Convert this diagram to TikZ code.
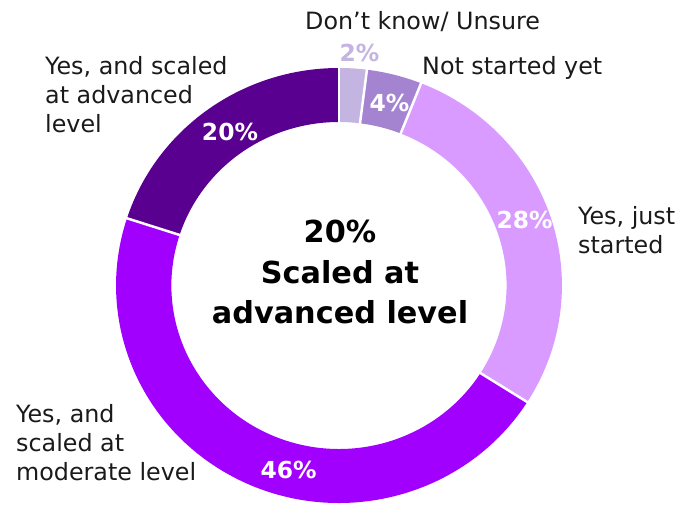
\documentclass[tikz,border=0pt]{standalone}
\usepackage{fontspec}
\setmainfont{DejaVu Sans}
\definecolor{cadv}{HTML}{5A0090}
\definecolor{cmod}{HTML}{A100FF}
\definecolor{cjs}{HTML}{D99BFF}
\definecolor{cns}{HTML}{A483D1}
\definecolor{cdk}{HTML}{C4B4E1}
\definecolor{ctext}{HTML}{1A1A1A}
\tikzset{
  lbl/.style={font=\fontsize{23.8}{29}\selectfont, text=ctext, align=left, anchor=base west, inner sep=0pt},
  pct/.style={font=\fontsize{23.4}{28}\selectfont\bfseries, text=white, anchor=base, inner sep=0pt},
  sep/.style={white, line width=2.5pt},
  ctr/.style={font=\fontsize{30.3}{40.5}\selectfont\bfseries, text=black, align=center, anchor=base, inner sep=0pt}
}
\newcommand{\ringseg}[3]{%
  \fill[#1] (#2:217.5pt) arc[start angle=#2, end angle=#3, radius=217.5pt]
    -- (#3:163.5pt) arc[start angle=#3, end angle=#2, radius=163.5pt] -- cycle;}
\begin{document}
\begin{tikzpicture}[x=1pt,y=1pt]
\useasboundingbox (0,0) rectangle (679,508);
\begin{scope}[shift={(339,222.5)}, xscale=1.025]
  \ringseg{cdk}{90}{82.8}
  \ringseg{cns}{82.8}{68.4}
  \ringseg{cjs}{68.4}{-32.4}
  \ringseg{cmod}{-32.4}{-198}
  \ringseg{cadv}{162}{90}
  \foreach \a in {90,82.8,68.4,-32.4,162}{
    \draw[sep] (\a:161pt) -- (\a:220pt);
  }
\end{scope}
% centre text (anchor = baseline of last line)
\node[ctr] (centre) at (340,184) {20\%\\Scaled at\\advanced level};
% percentages
\node[pct, text=cdk] (p2) at (359.5,446.3) {2\%};
\node[pct] (p4) at (389.5,396.3) {4\%};
\node[pct] (p28) at (524.5,279.7) {28\%};
\node[pct] (p46) at (288.5,29.7) {46\%};
\node[pct] (p20) at (230,367.3) {20\%};
% labels (anchor = baseline of last line)
\node[lbl] (ldk) at (305,478) {Don’t know/ Unsure};
\node[lbl] (lns) at (422,433) {Not started yet};
\node[lbl] (ladv) at (45,375) {Yes, and scaled\\at advanced\\level};
\node[lbl] (ljs) at (578,254) {Yes, just\\started};
\node[lbl] (lmod) at (16,27.3) {Yes, and\\scaled at\\moderate level};
\end{tikzpicture}
\end{document}
